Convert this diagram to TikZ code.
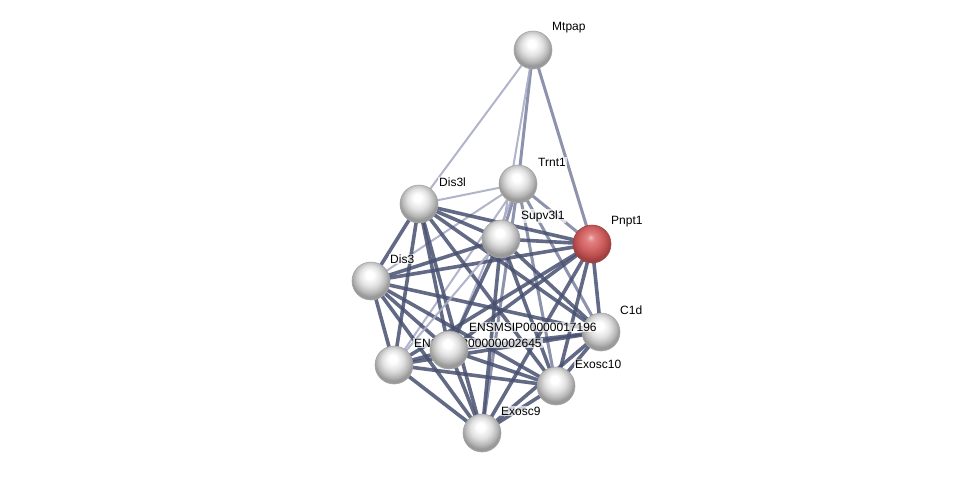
\documentclass[tikz,border=0pt]{standalone}
\usepackage{fontspec}
\setmainfont{Liberation Sans}
\pgfdeclarelayer{edges}
\pgfsetlayers{edges,main}
\definecolor{rb0}{RGB}{240,190,190}
\definecolor{rb1}{RGB}{225,130,130}
\definecolor{rb2}{RGB}{210,100,100}
\definecolor{rb3}{RGB}{185,78,78}
\definecolor{rb4}{RGB}{160,65,65}
\pgfdeclareradialshading{greyball}{\pgfpoint{-2bp}{9bp}}{color(0bp)=(white); color(5bp)=(white); color(14bp)=(black!12); color(21bp)=(black!28); color(25bp)=(black!40); color(50bp)=(black!40)}
\pgfdeclareradialshading{redball}{\pgfpoint{-2bp}{9bp}}{color(0bp)=(rb0); color(5bp)=(rb1); color(14bp)=(rb2); color(21bp)=(rb3); color(25bp)=(rb4); color(50bp)=(rb4)}
\definecolor{edark}{RGB}{72,80,112}
\definecolor{emid}{RGB}{112,120,152}
\definecolor{elight}{RGB}{168,172,196}
\tikzset{
  prot/.style={circle, minimum size=38pt, inner sep=0pt, draw=black!35, line width=0.6pt, shading=greyball},
  protred/.style={circle, minimum size=38pt, inner sep=0pt, draw=rb4, line width=0.6pt, shading=redball},
  lbl/.style={anchor=west, inner sep=1pt, fill=white, fill opacity=0.7, text opacity=1, font=\fontsize{12}{14}\selectfont},
  dk/.style={draw=edark, line width=3.6pt, opacity=0.85},
  md/.style={draw=emid, line width=3pt, opacity=0.8},
  lt/.style={draw=elight, line width=2pt, opacity=0.9},
}
\begin{document}
\begin{tikzpicture}[x=1pt,y=-1pt]
\useasboundingbox (0,0) rectangle (976,479);
% nodes
\node[prot] (M) at (533,50) {};
\node[lbl] (lM) at (551,28) {Mtpap};
\node[prot] (T) at (518,184) {};
\node[lbl] (lT) at (537,162) {Trnt1};
\node[prot] (DL) at (419,204) {};
\node[lbl] (lDL) at (438,182) {Dis3l};
\node[prot] (S) at (501,239) {};
\node[lbl] (lS) at (520,216) {Supv3l1};
\node[protred] (P) at (592,244) {};
\node[lbl] (lP) at (610,222) {Pnpt1};
\node[prot] (D) at (371,281) {};
\node[lbl] (lD) at (389,259) {Dis3};
\node[prot] (E2) at (394,365) {};
\node[lbl] (lE2) at (413,343) {ENSMSIP00000002645};
\node[prot] (C) at (601,332) {};
\node[lbl] (lC) at (619,310) {C1d};
\node[prot] (E1) at (449,350) {};
\node[lbl] (lE1) at (468,327) {ENSMSIP00000017196};
\node[prot] (X10) at (556,386) {};
\node[lbl] (lX10) at (574,364) {Exosc10};
\node[prot] (X9) at (482,433) {};
\node[lbl] (lX9) at (500,411) {Exosc9};
% edges
\begin{pgfonlayer}{edges}
\draw[lt] (M.center) -- (DL.center);
\draw[md] (M.center) -- (T.center);
\draw[lt] (M.center) -- (S.center);
\draw[md] (M.center) -- (P.center);
\draw[lt] (T.center) -- (DL.center);
\draw[lt] (T.center) -- (D.center);
\draw[md] (T.center) -- (S.center);
\draw[md] (T.center) -- (P.center);
\draw[lt] (T.center) -- (E1.center);
\draw[lt] (T.center) -- (E2.center);
\draw[md] (T.center) -- (X10.center);
\draw[md] (T.center) -- (X9.center);
\draw[md] (T.center) -- (C.center);
\foreach \a/\b in {DL/S,DL/P,DL/D,DL/E1,DL/E2,DL/X10,DL/X9,DL/C,
                   S/P,S/D,S/E1,S/X10,S/X9,S/C,
                   P/D,P/E1,P/E2,P/X10,P/X9,P/C,
                   D/E1,D/E2,D/X10,D/X9,D/C,
                   C/E1,C/E2,C/X10,C/X9,
                   E1/E2,E1/X10,E1/X9,
                   E2/X10,E2/X9,
                   X10/X9}
  \draw[dk] (\a.center) -- (\b.center);
\draw[lt] (S.center) -- (E2.center);
\end{pgfonlayer}
\end{tikzpicture}
\end{document}
